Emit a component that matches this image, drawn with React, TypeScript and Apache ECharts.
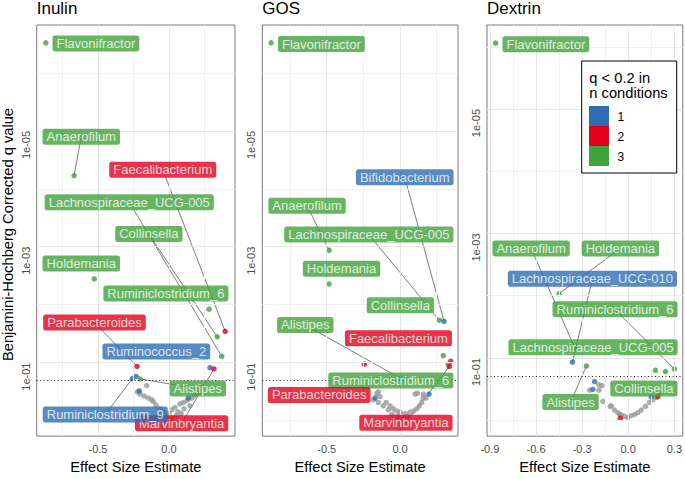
import React, { useEffect, useRef } from "react";
import * as echarts from "echarts";

// ---------------- data ----------------
const panelNames = ["Inulin", "GOS", "Dextrin"];
const legendTitle = ["q < 0.2 in", "n conditions"];
const nConditionLevels = [1, 2, 3];
const qCutoff = 0.2;
const yTickQ = [1e-1, 1e-3, 1e-5];
const yMinorQ = [1, 1e-2, 1e-4, 1e-6];
const xTicksInulin = [-0.5, 0.0];
const xTicksGOS = [-0.5, 0.0];
const xTicksDextrin = [-0.9, -0.6, -0.3, 0.0, 0.3];
const xMinorInulin = [-0.75, -0.25, 0.25];
const xMinorGOS = [-0.75, -0.25, 0.25];
const xMinorDextrin = [-0.75, -0.45, -0.15, 0.15];

// Inulin: taxa significant (q < 0.2) in at least one condition
const inulinTaxa = ["Flavonifractor", "Anaerofilum", "Holdemania", "Ruminiclostridium_6", "Faecalibacterium", "Collinsella", "Lachnospiraceae_UCG-005", "Parabacteroides", "Ruminiclostridium_9", "", "Alistipes", "", "Ruminococcus_2", "Marvinbryantia", ""];
const inulinEffect = [-0.868, -0.669, -0.526, 0.282, 0.396, 0.34, 0.371, -0.225, -0.258, -0.232, -0.204, -0.209, 0.289, 0.317, 0.136];
const inulinQ = [3.0e-7, 5.9e-5, 3.6e-3, 0.012, 0.029, 0.036, 0.078, 0.117, 0.189, 0.174, 0.192, 0.31, 0.123, 0.129, 0.41];
const inulinN = [3, 3, 3, 3, 2, 3, 3, 2, 1, 1, 3, 1, 1, 2, 1];
const inulinGrayEffect = [-0.157, -0.223, -0.204, -0.176, -0.146, -0.122, -0.111, -0.092, -0.063, -0.035, -0.007, 0.019, 0.021, 0.042, 0.077, 0.101, 0.129, 0.16, 0.183, 0.206, 0.218, 0.239, 0.063, 0.106, 0.148, -0.05, 0.0, 0.05, 0.085];
const inulinGrayQ = [0.25, 0.32, 0.35, 0.38, 0.41, 0.44, 0.47, 0.54, 0.63, 0.72, 0.85, 0.66, 0.91, 0.6, 0.52, 0.49, 0.45, 0.41, 0.37, 0.34, 0.32, 0.26, 0.71, 0.63, 0.56, 0.79, 0.76, 0.83, 0.76];

// GOS
const gosTaxa = ["Flavonifractor", "Anaerofilum", "Holdemania", "Lachnospiraceae_UCG-005", "Bifidobacterium", "Collinsella", "Faecalibacterium", "Ruminiclostridium_6", "Marvinbryantia", "Parabacteroides", "Alistipes", "", ""];
const gosEffect = [-0.879, -0.484, -0.484, 0.268, 0.3, 0.295, 0.346, 0.329, 0.336, -0.243, 0.0, -0.17, 0.198];
const gosQ = [3.0e-7, 1.15e-3, 4.4e-3, 0.0186, 0.0195, 0.076, 0.095, 0.107, 0.117, 0.107, 0.186, 0.41, 0.35];
const gosN = [3, 3, 3, 3, 1, 3, 2, 3, 2, 2, 3, 1, 1];
const gosGrayEffect = [-0.148, -0.159, -0.182, -0.136, -0.148, -0.114, -0.095, -0.08, -0.068, -0.046, -0.022, 0.0, 0.034, 0.068, 0.091, 0.114, 0.132, 0.148, 0.118, 0.159, 0.102, 0.157, -0.014, 0.02, -0.055, 0.055, 0.177];
const gosGrayQ = [0.32, 0.34, 0.44, 0.39, 0.49, 0.56, 0.49, 0.65, 0.56, 0.63, 0.69, 0.72, 0.76, 0.72, 0.69, 0.63, 0.56, 0.49, 0.34, 0.35, 0.35, 0.41, 0.85, 0.91, 0.79, 0.85, 0.41];

// Dextrin
const dextrinTaxa = ["Flavonifractor", "Holdemania", "Anaerofilum", "Alistipes", "Lachnospiraceae_UCG-005", "Collinsella", "Ruminiclostridium_6", "Lachnospiraceae_UCG-010", "", "", "", "", ""];
const dextrinEffect = [-0.863, -0.45, -0.348, -0.272, 0.177, 0.242, 0.3, -0.363, -0.219, -0.23, 0.149, 0.192, -0.052];
const dextrinQ = [8.7e-7, 9.3e-3, 0.069, 0.135, 0.158, 0.166, 0.151, 0.117, 0.24, 0.32, 0.42, 0.42, 0.93];
const dextrinN = [3, 3, 3, 3, 3, 3, 3, 1, 1, 1, 1, 2, 2];
const dextrinGrayEffect = [-0.251, -0.191, -0.191, -0.171, -0.165, -0.117, -0.089, -0.067, -0.045, -0.024, -0.003, 0.019, 0.041, 0.062, 0.084, 0.112, 0.138, 0.16, 0.182, 0.203, -0.11, -0.056];
const dextrinGrayQ = [0.33, 0.27, 0.33, 0.28, 0.5, 0.6, 0.69, 0.76, 0.83, 0.87, 0.91, 0.85, 0.81, 0.76, 0.69, 0.6, 0.52, 0.47, 0.43, 0.38, 0.59, 0.81];

// ---------------- layout (repelled label anchors, in axis units: effect, -log10 q) ----------------
type LabelSpot = [string, number, number, boolean];
const inulinLabelSpots: LabelSpot[] = [
  ["Flavonifractor", -0.515, 6.51, false],
  ["Anaerofilum", -0.618, 4.9, true],
  ["Faecalibacterium", -0.044, 4.33, true],
  ["Lachnospiraceae_UCG-005", -0.28, 3.77, true],
  ["Collinsella", -0.142, 3.22, true],
  ["Holdemania", -0.618, 2.71, false],
  ["Ruminiclostridium_6", -0.022, 2.19, false],
  ["Parabacteroides", -0.525, 1.69, true],
  ["Ruminococcus_2", -0.089, 1.19, false],
  ["Alistipes", 0.203, 0.55, true],
  ["Marvinbryantia", 0.089, -0.05, true],
  ["Ruminiclostridium_9", -0.449, 0.1, true],
];
const gosLabelSpots: LabelSpot[] = [
  ["Flavonifractor", -0.536, 6.5, false],
  ["Bifidobacterium", 0.032, 4.2, true],
  ["Anaerofilum", -0.634, 3.71, true],
  ["Lachnospiraceae_UCG-005", -0.213, 3.21, true],
  ["Holdemania", -0.399, 2.62, false],
  ["Collinsella", 0.002, 1.99, false],
  ["Alistipes", -0.646, 1.65, true],
  ["Faecalibacterium", -0.011, 1.42, false],
  ["Ruminiclostridium_6", -0.063, 0.69, false],
  ["Parabacteroides", -0.551, 0.44, false],
  ["Marvinbryantia", 0.04, -0.04, true],
];
const dextrinLabelSpots: LabelSpot[] = [
  ["Flavonifractor", -0.536, 6.04, false],
  ["Anaerofilum", -0.632, 2.76, true],
  ["Holdemania", -0.051, 2.76, true],
  ["Lachnospiraceae_UCG-010", -0.233, 2.27, true],
  ["Ruminiclostridium_6", -0.086, 1.78, true],
  ["Lachnospiraceae_UCG-005", -0.229, 1.17, false],
  ["Alistipes", -0.375, 0.29, true],
  ["Collinsella", 0.102, 0.51, false],
];

const GRIDS = [
  { left: 36.7, top: 25, width: 198.3, height: 419 },
  { left: 262.3, top: 25, width: 195.7, height: 419 },
  { left: 487, top: 25, width: 196.5, height: 419 },
];
const X_RANGE = [[-0.932, 0.465], [-0.939, 0.395], [-0.919, 0.355]];
const Y_RANGE = [[-0.271, 6.83], [-0.271, 6.83], [-0.257, 6.35]];

const GROUP_COLOR: Record<number, string> = { 1: "#2E6DB4", 2: "#E2001A", 3: "#41A33C" };
const GRAY = "#999999";
const FONT = "'Liberation Sans', Arial, Helvetica, sans-serif";

const nlq = (q: number) => -Math.log10(q);

function panelSeries(
  i: number,
  taxa: string[], eff: number[], q: number[], n: number[],
  gEff: number[], gQ: number[],
  spots: LabelSpot[],
  xTicks: number[], xMinor: number[]
) {
  const ax = { xAxisIndex: i, yAxisIndex: i };
  const minor = { color: "#f0f0f0", width: 1, type: "solid" };
  const major = { color: "#e6e6e6", width: 1, type: "solid" };
  const gridLines = [
    ...yMinorQ.map((v) => ({ yAxis: nlq(v), lineStyle: minor })),
    ...xMinor.map((v) => ({ xAxis: v, lineStyle: minor })),
    ...yTickQ.map((v) => ({ yAxis: nlq(v), lineStyle: major })),
    ...xTicks.map((v) => ({ xAxis: v, lineStyle: major })),
    { yAxis: nlq(qCutoff), lineStyle: { color: "#222", width: 1, type: [1, 2.5] } },
  ];
  const segs = spots
    .filter((s) => s[3])
    .map((s) => {
      const k = taxa.indexOf(s[0]);
      return { coords: [[s[1], s[2]], [eff[k], nlq(q[k])]] };
    });
  const labels = spots.map((s) => {
    const k = taxa.indexOf(s[0]);
    return {
      value: [s[1], s[2]],
      name: s[0],
      label: { backgroundColor: GROUP_COLOR[n[k]] },
    };
  });
  return [
    {
      type: "line", ...ax, data: [], z: 0, silent: true,
      markLine: { silent: true, symbol: ["none", "none"], label: { show: false }, animation: false, data: gridLines },
    },
    {
      type: "lines", coordinateSystem: "cartesian2d", ...ax, z: 1, silent: true,
      lineStyle: { color: "#5a5a5a", width: 0.8, opacity: 1, curveness: 0 },
      data: segs,
    },
    {
      type: "scatter", ...ax, z: 2, silent: true, symbolSize: 5.5,
      itemStyle: { color: GRAY },
      data: gEff.map((x, k) => [x, nlq(gQ[k])]),
    },
    {
      type: "scatter", ...ax, z: 3, silent: true, symbolSize: 5.5,
      data: eff.map((x, k) => ({ value: [x, nlq(q[k])], itemStyle: { color: GROUP_COLOR[n[k]] } })),
    },
    {
      type: "scatter", ...ax, z: 5, silent: true, symbolSize: 0,
      itemStyle: { color: "transparent" },
      label: {
        show: true, position: "inside", formatter: "{b}", color: "#ffffff",
        fontSize: 13, lineHeight: 13, fontFamily: FONT,
        padding: [2, 4, 1, 4], borderRadius: 2.5,
      },
      labelLayout: { hideOverlap: false },
      data: labels,
    },
  ];
}

export default function App() {
  const ref = useRef<HTMLDivElement>(null);
  useEffect(() => {
    if (!ref.current) return;
    const chart = echarts.init(ref.current, undefined, { renderer: "svg" });
    const xTicksAll = [xTicksInulin, xTicksGOS, xTicksDextrin];
    const xMinorAll = [xMinorInulin, xMinorGOS, xMinorDextrin];
    const series = [
      ...panelSeries(0, inulinTaxa, inulinEffect, inulinQ, inulinN, inulinGrayEffect, inulinGrayQ, inulinLabelSpots, xTicksInulin, xMinorInulin),
      ...panelSeries(1, gosTaxa, gosEffect, gosQ, gosN, gosGrayEffect, gosGrayQ, gosLabelSpots, xTicksGOS, xMinorGOS),
      ...panelSeries(2, dextrinTaxa, dextrinEffect, dextrinQ, dextrinN, dextrinGrayEffect, dextrinGrayQ, dextrinLabelSpots, xTicksDextrin, xMinorDextrin),
    ];
    const axisTextColor = "#4d4d4d";
    const tickColor = "#7a7a7a";
    const legendX = 581.7, legendY = 61;
    const graphic: any[] = [
      ...panelNames.map((t, i) => ({
        type: "text", left: undefined, x: GRIDS[i].left, y: 8,
        style: { text: t, fontSize: 17, fontFamily: FONT, fill: "#000", align: "left", verticalAlign: "middle" },
      })),
      {
        type: "text", x: 8, y: 234.5, rotation: Math.PI / 2,
        style: { text: "Benjamini-Hochberg Corrected q value", fontSize: 14.7, fontFamily: FONT, fill: "#000", align: "center", verticalAlign: "middle" },
      },
      {
        type: "rect", shape: { x: legendX, y: legendY, width: 95, height: 112 },
        style: { fill: "#fff", stroke: "#000", lineWidth: 1 }, z: 100,
      },
      ...legendTitle.map((t, k) => ({
        type: "text", x: 589.3, y: 77.5 + k * 15, z: 101,
        style: { text: t, fontSize: 14.7, fontFamily: FONT, fill: "#000", align: "left", verticalAlign: "middle" },
      })),
      ...nConditionLevels.map((lv, k) => ({
        type: "rect", shape: { x: 589, y: 106 + k * 20, width: 20, height: 20 }, z: 101,
        style: { fill: GROUP_COLOR[lv] },
      })),
      ...nConditionLevels.map((lv, k) => ({
        type: "text", x: 617.5, y: 116.5 + k * 20, z: 101,
        style: { text: String(lv), fontSize: 12, fontFamily: FONT, fill: "#000", align: "left", verticalAlign: "middle" },
      })),
    ];
    chart.setOption({
      animation: false,
      backgroundColor: "#ffffff",
      textStyle: { fontFamily: FONT },
      grid: GRIDS.map((g) => ({ ...g, show: true, borderColor: "#7a7a7a", borderWidth: 1, backgroundColor: "#fff", containLabel: false })),
      xAxis: GRIDS.map((g, i) => ({
        type: "value", gridIndex: i, min: X_RANGE[i][0], max: X_RANGE[i][1],
        name: "Effect Size Estimate", nameLocation: "middle", nameGap: 20,
        nameTextStyle: { fontSize: 14.7, color: "#000", fontFamily: FONT },
        axisLine: { show: false },
        splitLine: { show: false },
        axisTick: { show: true, length: 3.7, lineStyle: { color: tickColor, width: 1 }, customValues: xTicksAll[i] },
        axisLabel: {
          show: true, margin: 7, fontSize: 11, color: axisTextColor, fontFamily: FONT,
          customValues: xTicksAll[i],
          formatter: (v: number) => (Math.abs(v) < 1e-9 ? 0 : v).toFixed(1),
        },
      })),
      yAxis: GRIDS.map((g, i) => ({
        type: "value", gridIndex: i, min: Y_RANGE[i][0], max: Y_RANGE[i][1],
        axisLine: { show: false },
        splitLine: { show: false },
        axisTick: { show: true, length: 3.7, lineStyle: { color: tickColor, width: 1 }, customValues: yTickQ.map(nlq) },
        axisLabel: {
          show: true, margin: 5.5, fontSize: 11, color: axisTextColor, fontFamily: FONT,
          rotate: 90, align: "right", verticalAlign: "bottom",
          customValues: yTickQ.map(nlq),
          formatter: (v: number) => "1e-" + String(Math.round(v)).padStart(2, "0"),
        },
      })),
      series,
      graphic,
    });
    return () => chart.dispose();
  }, []);
  return <div ref={ref} style={{ position: "absolute", left: 0, top: 0, width: 685, height: 479 }} />;
}
